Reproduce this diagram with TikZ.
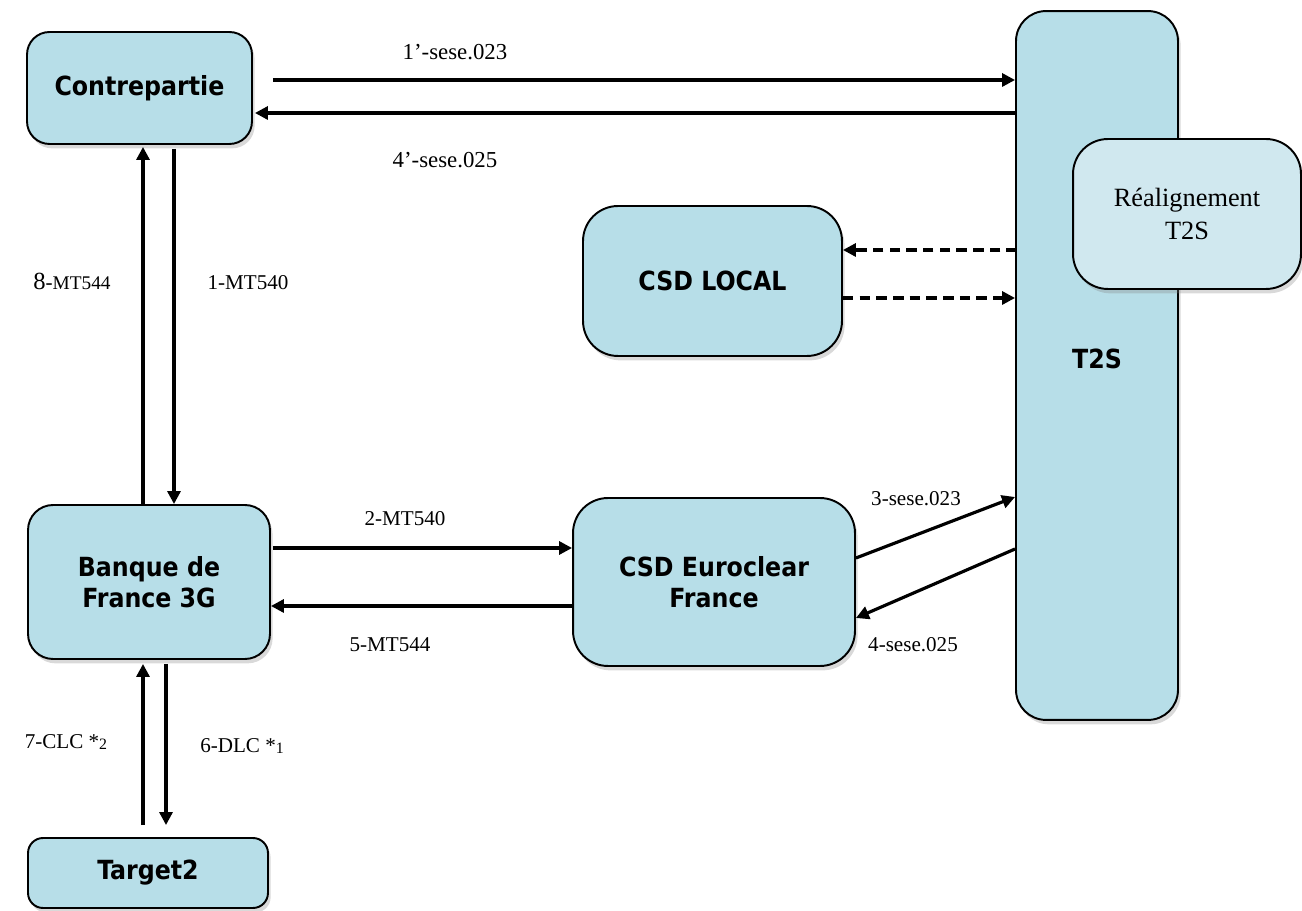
\documentclass[tikz,border=0pt]{standalone}
\usepackage{fontspec}
\setmainfont{Liberation Serif}
\newfontfamily\boxfont{DejaVu Sans Condensed}
\usepackage{xcolor}
\definecolor{Box}{RGB}{183,222,232}
\definecolor{LightBox}{RGB}{208,232,239}
\definecolor{Black}{RGB}{0,0,0}
\usetikzlibrary{positioning, calc, shadows, arrows.meta}

\begin{document}
\begin{tikzpicture}[x=0.02cm, y=-0.02cm,
		bloc/.style={draw=Black, fill=Box, line width=1.1pt, rounded corners=0.45cm, align=center,
			font=\boxfont\bfseries\fontsize{15}{18}\selectfont,
			drop shadow={shadow xshift=1.5pt, shadow yshift=-2.5pt, opacity=0.3}},
		msg/.style={line width=1.8pt, -{Triangle[length=2.6mm, width=2.6mm]}},
		msgdash/.style={msg, dash pattern=on 6pt off 3.5pt},
		lbl/.style={font=\fontsize{12}{14}\selectfont, inner sep=0pt}]
		
		\useasboundingbox (0,0) rectangle (1302,911);
		
		% Rectangle
		\node[bloc, minimum width=4.5cm, minimum height=2.24cm] (contre) at (139.5,88) {Contrepartie};
		\node[bloc, minimum width=4.84cm, minimum height=3.08cm, rounded corners=0.5cm] (bdf) at (149,582) {Banque de\\France 3G};
		\node[bloc, minimum width=4.8cm, minimum height=1.4cm, rounded corners=0.3cm] (target) at (148,873) {Target2};
		\node[bloc, minimum width=5.18cm, minimum height=3.0cm, rounded corners=0.7cm] (local) at (712.5,281) {CSD LOCAL};
		\node[bloc, minimum width=5.64cm, minimum height=3.36cm, rounded corners=0.7cm] (euro) at (714,582) {CSD Euroclear\\France};
		\node[bloc, minimum width=3.24cm, minimum height=14.18cm, rounded corners=0.6cm] (t2s) at (1097,365.5) {\raisebox{0.26cm}{T2S}};
		\node[bloc, fill=LightBox, minimum width=4.56cm, minimum height=3.0cm, rounded corners=0.7cm,
			font=\fontsize{15}{19}\selectfont] (realign) at (1187,214) {Réalignement\\T2S};
		
		% Flows
		\draw[msg] ($(contre.east)+(20,-8)$) coordinate (c1) -- (c1 -| t2s.west);
		\path ($(contre.east)+(2,25)$) coordinate (c2);
		\draw[msg] (c2 -| t2s.west) -- (c2);
		
		\draw[msg] ($(bdf.north)+(-6,0)$) coordinate (c3) -- ($(c3 |- contre.south)+(0,2)$);
		\draw[msg] ($(contre.south)+(34.5,4)$) coordinate (c4) -- (c4 |- bdf.north);
		
		\draw[msgdash] ($(local.east)+(174,-31)$) coordinate (c5) -- (c5 -| local.east);
		\draw[msgdash] ($(local.east)+(0,17)$) coordinate (c6) -- (c6 -| t2s.west);
		
		\draw[msg] ($(bdf.east)+(2,-34)$) coordinate (c7) -- (c7 -| euro.west);
		\draw[msg] ($(euro.west)+(0,24)$) coordinate (c8) -- (c8 -| bdf.east);
		
		\draw[msg] ($(euro.east)+(0,-24)$) -- ($(t2s.west)+(0,131.5)$);
		\draw[msg] ($(t2s.west)+(0,183.5)$) -- ($(euro.east)+(0,36)$);
		
		\draw[msg] ($(target.north)+(-5,-12)$) coordinate (c9) -- ($(c9 |- bdf.south)+(0,4)$);
		\draw[msg] ($(bdf.south)+(17,4)$) coordinate (c10) -- ($(c10 |- target.north)+(0,-12)$);
		
		% Exchanged
		\node[lbl, font=\fontsize{13}{15}\selectfont] (l1p) at (455,52) {1’-sese.023};
		\node[lbl, font=\fontsize{13}{15}\selectfont] (l4p) at (445,160) {4’-sese.025};
		\node[lbl] (l8) at (72,281) {{\fontsize{14}{16}\selectfont 8}-{\fontsize{11}{13}\selectfont MT544}};
		\node[lbl] (l1) at (248,283) {1-MT540};
		\node[lbl] (l2) at (405,519) {2-MT540};
		\node[lbl] (l5) at (390,645) {5-MT544};
		\node[lbl] (l3) at (916,499) {3-sese.023};
		\node[lbl] (l4) at (913,645) {4-sese.025};
		\node[lbl] (l7) at (66,742) {7-CLC *\raisebox{-0.2ex}{\fontsize{9}{10}\selectfont 2}};
		\node[lbl] (l6) at (242,746) {6-DLC *\raisebox{-0.2ex}{\fontsize{9}{10}\selectfont 1}};
		
	\end{tikzpicture}
\end{document}
